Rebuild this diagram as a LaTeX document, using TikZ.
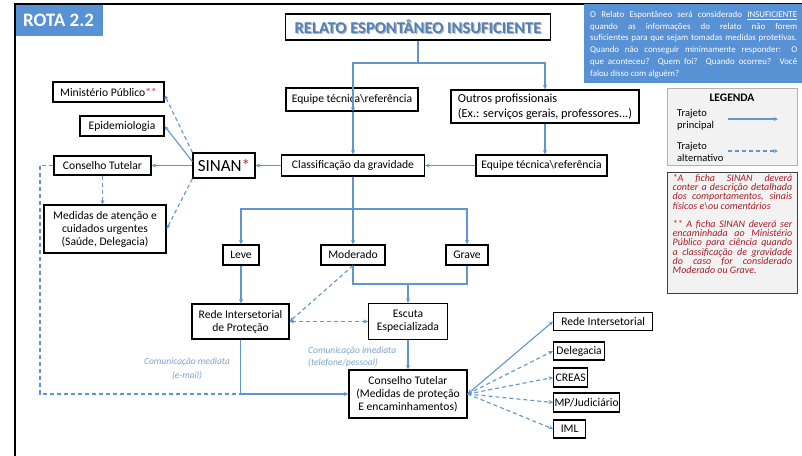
\documentclass[tikz,border=0pt]{standalone}
\usepackage{fontspec}
\setmainfont{Carlito}
\usetikzlibrary{arrows.meta}
\definecolor{arrowblue}{RGB}{95,150,205}
\definecolor{boxblue}{RGB}{88,145,212}
\definecolor{titleblue}{RGB}{79,129,189}
\definecolor{labelblue}{RGB}{125,163,204}
\definecolor{notered}{RGB}{165,30,40}
\definecolor{starred}{RGB}{210,40,40}
\definecolor{legfill}{RGB}{242,242,242}
\newcommand\jline[2]{\makebox[#1][s]{#2}}
\newcommand\boxfont{\fontsize{11.6}{13}\selectfont}
\begin{document}
\begin{tikzpicture}[x=1pt,y=-1pt,
  >={Stealth[length=4.5pt,width=4pt]},
  box/.style={draw=black, line width=1.2pt, font=\boxfont, inner sep=0pt, align=center},
  wh/.style 2 args={minimum width=#1pt, minimum height=#2pt},
  arr/.style={draw=arrowblue, line width=1.1pt, ->},
  plain/.style={draw=arrowblue, line width=1.1pt},
  dsh/.style={arr, dash pattern=on 4pt off 3pt},
  lab/.style={font=\fontsize{9.5}{13.5}\selectfont\itshape, text=labelblue, inner sep=0pt},
  info/.style={font=\fontsize{8.9}{11}\selectfont, text=white, inner sep=0pt, anchor=base west},
  note/.style={font=\fontsize{10}{9.2}\selectfont\itshape, text=notered, inner sep=0pt, anchor=base west},
  legtxt/.style={font=\fontsize{10.5}{12.5}\selectfont, inner sep=0pt, align=left, anchor=west}]
\useasboundingbox (0,0) rectangle (802,455);
\clip (0,0) rectangle (802,455);
\fill[white] (0,0) rectangle (802,455);
% frame
\draw[line width=1.5pt] (15,4) rectangle (900,600);
% ROTA
\fill[boxblue] (16,5) rectangle (103,36);
\node[font=\fontsize{19}{21}\selectfont\bfseries, text=white, inner sep=0pt] (rota) at (58.5,20.5) {ROTA 2.2};
% info box
\fill[boxblue] (584,4) rectangle (840,83);
\node[info] (i1) at (590,17.5) {\jline{207pt}{O Relato Espontâneo será considerado \underline{INSUFICIENTE}}};
\node[info] (i2) at (590,29.2) {\jline{207pt}{quando as informações do relato não forem}};
\node[info] (i3) at (590,40.9) {\jline{207pt}{suficientes para que sejam tomadas medidas protetivas.}};
\node[info] (i4) at (590,52.6) {\jline{207pt}{Quando não conseguir minimamente responder: O}};
\node[info] (i5) at (590,64.3) {\jline{207pt}{que aconteceu? Quem foi? Quando ocorreu? Você}};
\node[info] (i6) at (590,76) {falou disso com alguém?};
% title
\node[font=\fontsize{16.5}{18}\selectfont\bfseries, text=gray!60, inner sep=0pt] (tshadow) at (419.2,28.2) {RELATO ESPONTÂNEO INSUFICIENTE};
\node[box, wh={265}{26}, font=\fontsize{16.5}{18}\selectfont\bfseries, text=titleblue] (title) at (418,27) {RELATO ESPONTÂNEO INSUFICIENTE};
% boxes
\node[box, wh={132}{23}] (eq1) at (352,99.5) {Equipe técnica\textbackslash referência};
\node[box, wh={188}{33}, align=left, font=\fontsize{12.3}{14}\selectfont] (outros) at (545,106.5) {Outros profissionais\\[1pt](Ex.: serviços gerais, professores...)};
\node[box, wh={143}{21}] (classif) at (353,165.5) {Classificação da gravidade};
\node[box, wh={131}{21}] (eq2) at (541.5,165.5) {Equipe técnica\textbackslash referência};
\node[box, wh={62}{25}, font=\fontsize{17}{19}\selectfont] (sinan) at (224,165.5) {SINAN\textcolor{starred}{*}};
\node[box, wh={111}{20}] (mp) at (108.5,92) {Ministério Público\textcolor{starred}{**}};
\node[box, wh={84}{20}] (epi) at (122,126) {Epidemiologia};
\node[box, wh={97}{19}] (ct1) at (102.5,165.5) {Conselho Tutelar};
\node[box, wh={122}{48}] (med) at (105,229) {Medidas de atenção e\\cuidados urgentes\\(Saúde, Delegacia)};
\node[box, wh={36}{20}] (leve) at (241,255) {Leve};
\node[box, wh={64}{20}] (mod) at (353,255) {Moderado};
\node[box, wh={42}{20}] (grave) at (467,255) {Grave};
\node[box, wh={97}{35}] (rede) at (240.5,321.5) {Rede Intersetorial\\de Proteção};
\node[box, wh={79}{36}] (escuta) at (408,321.5) {Escuta\\Especializada};
\node[box, wh={118}{48}] (ct2) at (408,394) {Conselho Tutelar\\(Medidas de proteção\\E encaminhamentos)};
\node[box, wh={99}{18}, anchor=west] (r1) at (553,321.5) {Rede Intersetorial};
\node[box, wh={51}{18}, anchor=west] (r2) at (553,351) {Delegacia};
\node[box, wh={34}{19}, anchor=west] (r3) at (553,377.5) {CREAS};
\node[box, wh={66}{19}, anchor=west] (r4) at (553,402.5) {MP/Judiciário};
\node[box, wh={32}{18}, anchor=west] (r5) at (553,429) {IML};
% connectors
\coordinate (j1) at (418,63);
\draw[plain] (title.south) -- (j1);
\draw[arr] (j1) -| (eq1.south -| classif.north);
\draw[arr] (j1) -| (outros.north);
\draw[arr] (eq1.south -| classif.north) -- (classif.north);
\draw[arr] (outros.south) -- (outros.south |- eq2.north);
\draw[arr] (eq2.west) -- (classif.east);
\draw[arr] (classif.west) -- (sinan.east);
\draw[arr] (sinan.west) -- (ct1.east);
\draw[arr] ([yshift=4pt]sinan.west) -- (epi.east);
\draw[dsh] (sinan.north west) -- ([yshift=-3pt]mp.east);
\draw[dsh] (sinan.south west) -- (med.east);
\draw[dsh] (ct1.south) -- (ct1.south |- med.north);
\coordinate (c40) at (40,394);
\coordinate (j3) at (rede.south |- ct2.west);
\draw[dsh, -] (ct1.west) -| (c40) -- (j3);
\draw[arr] (rede.south) -- (j3) -- (ct2.west);
\coordinate (j4) at (353,209);
\draw[arr] (classif.south) -- (mod.north);
\draw[arr] (j4) -| (leve.north);
\draw[arr] (j4) -| (grave.north);
\coordinate (j5) at (408,284);
\draw[plain] (mod.south) |- (j5) -| (grave.south);
\draw[arr] (j5) -- (escuta.north);
\draw[dsh] (mod.south) -- (rede.east);
\draw[dsh, <->] (rede.east) -- (escuta.west);
\draw[arr] (leve.south) -- (leve.south |- rede.north);
\draw[arr] (escuta.south) -- (ct2.north);
\draw[arr, <->] (ct2.east) -- (r1.west);
\foreach \n in {r2,r3,r4,r5} \draw[dsh] (ct2.east) -- (\n.west);
% labels
\node[lab, align=center] (lmed) at (187,369) {Comunicação mediata\\(e-mail)};
\node[lab, align=left, anchor=west, font=\fontsize{9.5}{12.5}\selectfont\itshape] (limed) at (308,357) {Comunicação imediata\\(telefone/pessoal)};
% legend
\node[draw=gray!60, fill=legfill, line width=0.8pt, anchor=north west, wh={130}{77}, inner sep=0pt] (leg) at (667,88) {};
\node[font=\fontsize{11.5}{13}\selectfont\bfseries, inner sep=0pt] (legt) at (732,97.5) {LEGENDA};
\node[legtxt] (lg1) at (677,119.5) {Trajeto\\principal};
\node[legtxt] (lg2) at (677,152) {Trajeto\\alternativo};
\coordinate (la1) at (728,119);
\coordinate (lb1) at (778,119);
\coordinate (la2) at (728,151);
\coordinate (lb2) at (778,151);
\draw[arr] (la1) -- (lb1);
\draw[dsh] (la2) -- (lb2);
% notes
\node[draw=gray!50!black, fill=legfill, line width=0.8pt, anchor=north west, wh={130}{121}, inner sep=0pt] (notes) at (667,172) {};
\node[note] (n1) at (672.5,181.5) {\jline{119.5pt}{*A ficha SINAN deverá}};
\node[note] (n2) at (672.5,190.7) {\jline{119.5pt}{conter a descrição detalhada}};
\node[note] (n3) at (672.5,199.9) {\jline{119.5pt}{dos comportamentos, sinais}};
\node[note] (n4) at (672.5,209.1) {físicos e\textbackslash ou comentários};
\node[note] (n5) at (672.5,227.5) {\jline{119.5pt}{** A ficha SINAN deverá ser}};
\node[note] (n6) at (672.5,236.7) {\jline{119.5pt}{encaminhada ao Ministério}};
\node[note] (n7) at (672.5,245.9) {\jline{119.5pt}{Público para ciência quando}};
\node[note] (n8) at (672.5,255.1) {\jline{119.5pt}{a classificação de gravidade}};
\node[note] (n9) at (672.5,264.3) {\jline{119.5pt}{do caso for considerado}};
\node[note] (n10) at (672.5,273.5) {Moderado ou Grave.};
\end{tikzpicture}
\end{document}
